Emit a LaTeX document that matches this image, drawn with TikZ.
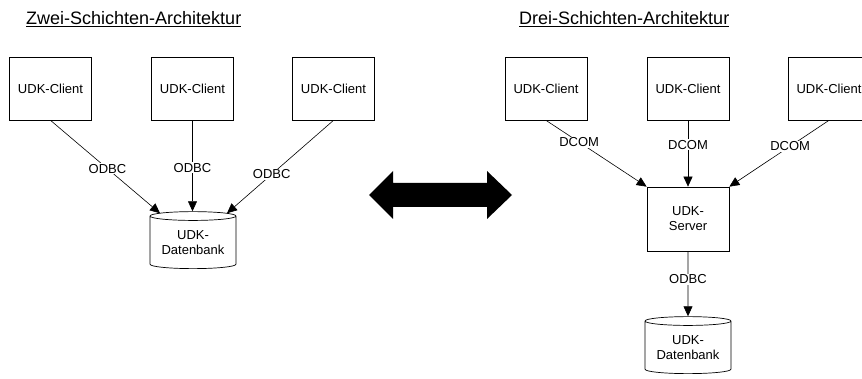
\documentclass[tikz,border=0pt]{standalone}
\usepackage{fontspec}
\setmainfont{Liberation Sans}
\usepackage{tikz}
\usetikzlibrary{positioning,arrows.meta,calc,shapes.geometric}
\tikzset{
  lbl/.style={font=\fontsize{13}{15}\selectfont},
  clientbox/.style={draw,line width=0.7pt,minimum width=82pt,minimum height=63pt,inner sep=0pt,lbl},
  serverbox/.style={clientbox,minimum height=64pt,align=center},
  dbcyl/.style={draw,line width=0.7pt,cylinder,shape border rotate=90,aspect=0.14,
    minimum width=86pt,minimum height=57pt,inner sep=0pt,align=center,lbl},
  link/.style={line width=0.6pt,-{Triangle[length=10pt,width=9pt]}},
  proto/.style={fill=white,inner sep=1pt,lbl},
  archtitle/.style={anchor=base west,inner sep=0pt,font=\fontsize{18}{21}\selectfont}
}

\begin{document}
\begin{tikzpicture}[x=1pt,y=-1pt]
  \clip (0,0) rectangle (862,379);
  % two-tier
  \begin{scope}
    \node[archtitle] (twotitle) at (26,25) {\underline{Zwei-Schichten-Architektur}};
    \foreach \i/\x in {1/50.5,2/192.5,3/333.5} {\node[clientbox] (ca\i) at (\x,88.5) {UDK-Client};}
    \node[dbcyl] (dba) at (193,242.5) {UDK-\\Datenbank};
    \draw[link] (ca1.south) -- node[proto,pos=0.52] {ODBC} ([xshift=-33pt,yshift=-2pt]dba.north);
    \draw[link] (ca2.south) -- node[proto,pos=0.52] {ODBC} (ca2.south |- dba.north);
    \draw[link] (ca3.south) -- node[proto,pos=0.58] {ODBC} ([xshift=34pt,yshift=-2pt]dba.north);
  \end{scope}
  % arrow between
  \fill (369,195) -- (393,171) -- (393,183) -- (487,183) -- (487,171) -- (512,195)
    -- (487,219) -- (487,207) -- (393,207) -- (393,219) -- cycle;
  % three-tier
  \begin{scope}[xshift=495.5pt]
    \node[archtitle] (threetitle) at (23.5,25) {\underline{Drei-Schichten-Architektur}};
    \foreach \i/\x in {1/50.5,2/192.5,3/333.5} {\node[clientbox] (cb\i) at (\x,88.5) {UDK-Client};}
    \node[serverbox] (srv) at (192.5,219) {UDK-\\Server};
    \node[dbcyl] (dbb) at (192.5,347.5) {UDK-\\Datenbank};
    \draw[link] (cb1.south) -- node[proto,pos=0.33] {DCOM} (srv.north west);
    \draw[link] (cb2.south) -- node[proto,pos=0.37] {DCOM} (srv.north);
    \draw[link] (cb3.south) -- node[proto,pos=0.39] {DCOM} (srv.north east);
    \draw[link] (srv.south) -- node[proto,pos=0.43] {ODBC} (dbb.north);
  \end{scope}
\end{tikzpicture}
\end{document}
